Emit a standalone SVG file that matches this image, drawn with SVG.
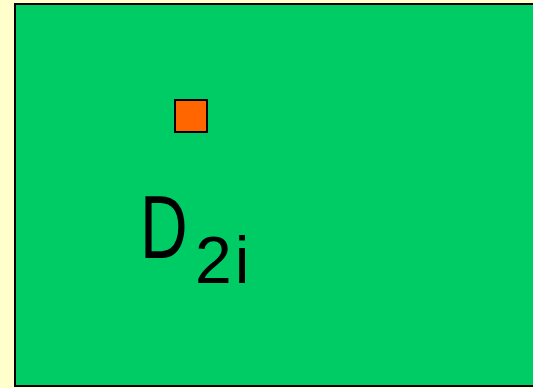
<svg xmlns="http://www.w3.org/2000/svg" width="533" height="388" viewBox="0 0 533 388">
<style>
.t{font-family:"Liberation Sans",Arial,sans-serif;fill:#000}
</style>
<rect x="0" y="0" width="533" height="388" fill="#FFFFCC"/>
<g id="field">
<rect x="15" y="4" width="530" height="382" fill="#00CC66" stroke="#000" stroke-width="2"/>
</g>
<g id="marker">
<rect x="175" y="100" width="32" height="32" fill="#FF6600" stroke="#000" stroke-width="2"/>
</g>
<g id="label">
<text class="t" font-size="88" transform="translate(140,258) scale(0.75,1)" x="0" y="0">D</text>
<text class="t" font-size="66" x="195" y="283" letter-spacing="3">2i</text>
</g>
</svg>
